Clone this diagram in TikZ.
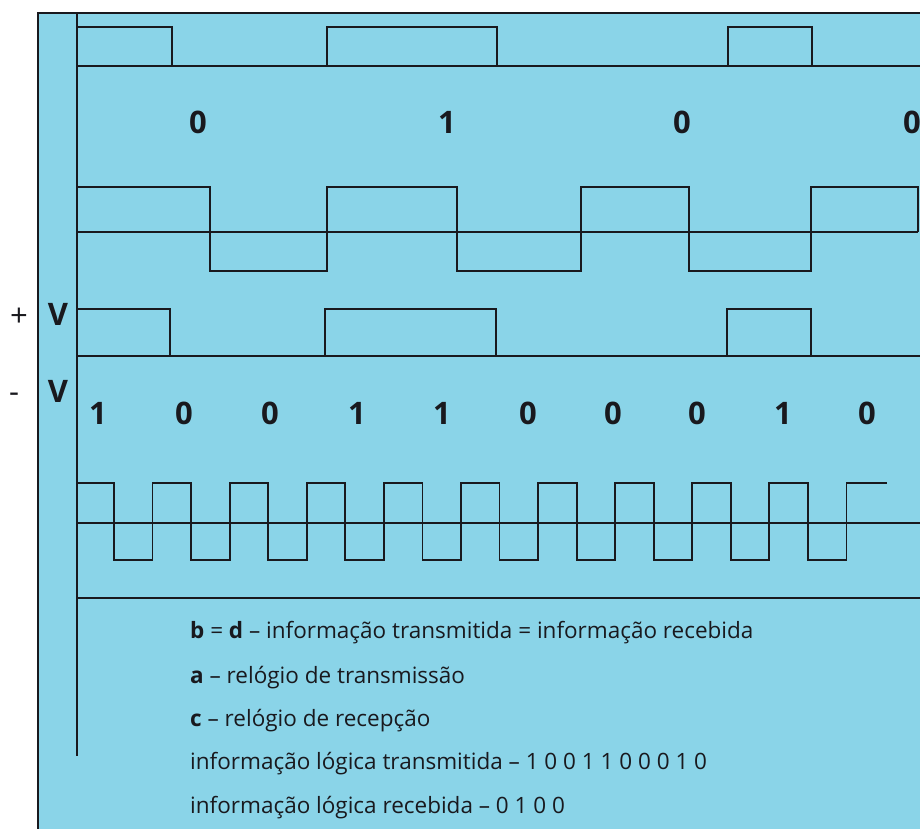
\documentclass[tikz,border=0pt]{standalone}
\usepackage{fontspec}
\setmainfont{Open Sans}
\definecolor{bgblue}{RGB}{138,212,232}
\definecolor{ink}{RGB}{25,25,30}
\begin{document}
\begin{tikzpicture}[x=1pt,y=-1pt,
  wave/.style={draw=ink,line width=1.8pt,line join=miter},
  border/.style={draw=ink,line width=1.4pt},
  bit/.style={font=\fontsize{31}{33}\selectfont\bfseries,text=ink,inner sep=0pt,anchor=base},
  vlab/.style={font=\fontsize{31}{33}\selectfont\bfseries,text=ink,inner sep=0pt,anchor=base},
  sign/.style={font=\fontsize{31}{33}\selectfont,text=ink,inner sep=0pt,anchor=base},
  legend/.style={font=\fontsize{22.5}{24}\selectfont,text=ink,inner sep=0pt,anchor=base west}]
\useasboundingbox (0,0) rectangle (920,829);
\fill[bgblue] (38,13) rectangle (920,829);
\draw[border] (920,13) -- (38,13) -- (38,829);
% vertical axis
\draw[wave] (77,13) -- (77,756);
% row a
\draw[wave] (77,66) -- (920,66);
\draw[wave] (77,27) -- (172,27) -- (172,66);
\draw[wave] (327,66) -- (327,27) -- (497,27) -- (497,66);
\draw[wave] (728,66) -- (728,27) -- (812,27) -- (812,66);
% labels row 1
\node[bit] (t1) at (198,134) {0};
\node[bit] (t2) at (447,134) {1};
\node[bit] (t3) at (682,134) {0};
\node[bit] (t4) at (912,134) {0};
% row b
\draw[wave] (77,232) -- (918,232);
\draw[wave] (77,187) -- (210,187) -- (210,271) -- (327,271) -- (327,187) -- (457,187) -- (457,271) -- (581,271) -- (581,187) -- (689,187) -- (689,271) -- (811,271) -- (811,187) -- (918,187) -- (918,232);
% row c
\node[sign] (pl) at (19,326) {+};
\node[vlab] (vp) at (58,325) {V};
\node[sign] (mi) at (14,402) {-};
\node[vlab] (vm) at (58,402) {V};
\draw[wave] (77,356) -- (920,356);
\draw[wave] (77,309) -- (170,309) -- (170,356);
\draw[wave] (325,356) -- (325,309) -- (496,309) -- (496,356);
\draw[wave] (727,356) -- (727,309) -- (811,309) -- (811,356);
% labels row 2
\foreach \x/\b [count=\i] in {98/1,184/0,270/0,357/1,442/1,528/0,613/0,697/0,783/1,867/0}
  \node[bit] (r\i) at (\x,424) {\b};
% row d clock
\draw[wave] (77,523) -- (920,523);
\draw[wave] (77,483) foreach \k in {0,...,9} {
   -- ({114+2*\k*38.55},483) -- ({114+2*\k*38.55},560)
   -- ({114+(2*\k+1)*38.55},560) -- ({114+(2*\k+1)*38.55},483) } -- (887,483);
% bottom line
\draw[wave] (77,598) -- (920,598);
% legend
\node[legend] (l1) at (190,638) {\textbf{b} = \textbf{d} – informação transmitida = informação recebida};
\node[legend] (l2) at (190,683) {\textbf{a} – relógio de transmissão};
\node[legend] (l3) at (190,726) {\textbf{c} – relógio de recepção};
\node[legend] (l4) at (190,769) {informação lógica transmitida – 1 0 0 1 1 0 0 0 1 0};
\node[legend] (l5) at (190,813) {informação lógica recebida – 0 1 0 0};
\end{tikzpicture}
\end{document}
